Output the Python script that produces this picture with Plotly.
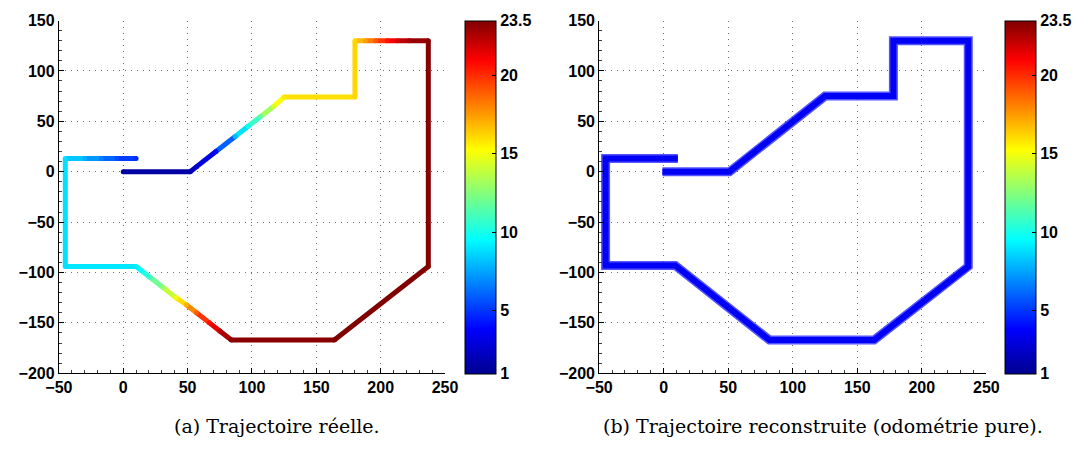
import plotly.graph_objects as go
from plotly.colors import sample_colorscale

# Real trajectory: x, y (cm) and the colour value carried by each sample
real_x = [0, 52, 57, 72, 87, 97, 107, 117, 125, 180, 180, 188, 196, 205, 213, 222, 237,
          237, 164, 84, 75, 67, 57, 49, 41, 31, 21, 14, 10, -45, -45, -30, -17, -5, 10]
real_y = [0, 0, 5, 20, 35, 45, 55, 65, 74, 74, 130, 130, 130, 130, 130, 130, 130,
          -94, -167, -167, -158, -150, -140, -132, -125, -115, -105, -98, -94, -94, 13, 13, 13, 13, 13]
real_v = [1.3, 1.8, 2.5, 4.0, 8.0, 9.8, 12.0, 14.5, 15.8, 16.2, 16.2, 17.5, 19.0, 20.6, 21.8, 22.8, 23.3,
          23.5, 23.5, 23.2, 22.2, 20.8, 19.0, 17.0, 15.0, 13.0, 11.0, 9.6, 9.2, 8.9, 8.9, 7.8, 6.7, 5.6, 4.8]

# Reconstructed trajectory (pure odometry)
odo_x = [-1, 51, 125, 178, 178, 236, 236, 163, 82, 9, -45, -45, 11]
odo_y = [0, 0, 75, 75, 130, 130, -94, -167, -167, -93, -93, 13, 13]

cb_ticks = [1, 5, 10, 15, 20, 23.5]
cb_text = ["1", "5", "10", "15", "20", "23.5"]
axis_ticks = [-50, 0, 50, 100, 150, 200, 250]
y_ticks = [-200, -150, -100, -50, 0, 50, 100, 150]
captions = ["(a) Trajectoire réelle.", "(b) Trajectoire reconstruite (odométrie pure)."]

VMIN, VMAX = 1, 23.5
jet = [[0.0, "rgb(0,0,143)"], [0.127, "rgb(0,0,255)"], [0.381, "rgb(0,255,255)"],
       [0.635, "rgb(255,255,0)"], [0.889, "rgb(255,0,0)"], [1.0, "rgb(128,0,0)"]]

W, H = 1091, 453
ax_left = [46, 600]
ax_right = [442, 997]
ax_top, ax_bot = 13, 379.5
cb_left = [462, 1016]
cb_w = 31

fig = go.Figure()
lab_font = dict(family="Liberation Sans", size=16, color="black", weight="bold")


def colour(v):
    return sample_colorscale(jet, [(v - VMIN) / (VMAX - VMIN)])[0]


def colorbar_for(i):
    return dict(
        x=cb_left[i] / W, xanchor="left", xpad=0, ypad=0,
        y=1 - ax_top / H, yanchor="top", len=(ax_bot + 0.5 - ax_top) / H, lenmode="fraction",
        thickness=cb_w, thicknessmode="pixels",
        outlinewidth=1, outlinecolor="black",
        tickmode="array", tickvals=cb_ticks, ticktext=cb_text,
        ticks="inside", ticklen=4, tickcolor="black",
        tickfont=lab_font,
    )


# (a) coloured trajectory, one short segment per pair of samples
for k in range(len(real_x) - 1):
    fig.add_trace(go.Scatter(
        x=real_x[k:k + 2], y=real_y[k:k + 2], mode="lines",
        line=dict(color=colour((real_v[k] + real_v[k + 1]) / 2), width=5),
        xaxis="x", yaxis="y", showlegend=False, hoverinfo="skip"))
fig.add_trace(go.Scatter(
    x=real_x, y=real_y, mode="markers",
    marker=dict(size=5, color=real_v, colorscale=jet, cmin=VMIN, cmax=VMAX,
                showscale=True, colorbar=colorbar_for(0), line=dict(width=0)),
    xaxis="x", yaxis="y", showlegend=False))

# (b) odometry trajectory
fig.add_trace(go.Scatter(x=odo_x, y=odo_y, mode="lines",
                         line=dict(color="rgba(40,40,255,0.8)", width=9),
                         xaxis="x2", yaxis="y2", showlegend=False))
fig.add_trace(go.Scatter(x=odo_x, y=odo_y, mode="lines",
                         line=dict(color="rgb(0,0,245)", width=6),
                         xaxis="x2", yaxis="y2", showlegend=False))
# colour bar for panel (b)
fig.add_trace(go.Scatter(
    x=[None], y=[None], mode="markers",
    marker=dict(size=1, color=[VMIN], colorscale=jet, cmin=VMIN, cmax=VMAX,
                showscale=True, colorbar=colorbar_for(1)),
    xaxis="x2", yaxis="y2", showlegend=False))


def xaxis_style(i):
    return dict(
        domain=[ax_left[i] / W, ax_right[i] / W], range=[-50, 250],
        tickmode="array", tickvals=axis_ticks,
        showline=True, linecolor="black", linewidth=1, mirror=False,
        ticks="inside", ticklen=5, tickcolor="black",
        minor=dict(ticks="inside", ticklen=3, dtick=10, tickcolor="rgb(60,60,60)", showgrid=False),
        showgrid=True, gridcolor="rgb(110,110,110)", griddash="1px,5px", gridwidth=1,
        zeroline=False, tickfont=lab_font, anchor="y" if i == 0 else "y2",
    )


def yaxis_style(i):
    return dict(
        domain=[1 - ax_bot / H, 1 - ax_top / H], range=[-200, 150],
        tickmode="array", tickvals=y_ticks,
        showline=True, linecolor="black", linewidth=1, mirror=False,
        ticks="inside", ticklen=5, tickcolor="black",
        minor=dict(ticks="inside", ticklen=3, dtick=10, tickcolor="rgb(60,60,60)", showgrid=False),
        showgrid=True, gridcolor="rgb(110,110,110)", griddash="1px,5px", gridwidth=1,
        zeroline=False, tickfont=lab_font, anchor="x" if i == 0 else "x2",
    )


annotations = []
for i, cap in enumerate(captions):
    annotations.append(dict(
        text=cap, x=[270, 830][i] / W, y=1 - 434 / H, xref="paper", yref="paper",
        xanchor="center", yanchor="middle", showarrow=False,
        font=dict(family="DejaVu Serif", size=19, color="black")))

fig.update_layout(
    width=W, height=H, margin=dict(l=0, r=0, t=0, b=0),
    paper_bgcolor="white", plot_bgcolor="white",
    xaxis=xaxis_style(0), yaxis=yaxis_style(0),
    xaxis2=xaxis_style(1), yaxis2=yaxis_style(1),
    annotations=annotations,
)

fig.write_html("out.html")
